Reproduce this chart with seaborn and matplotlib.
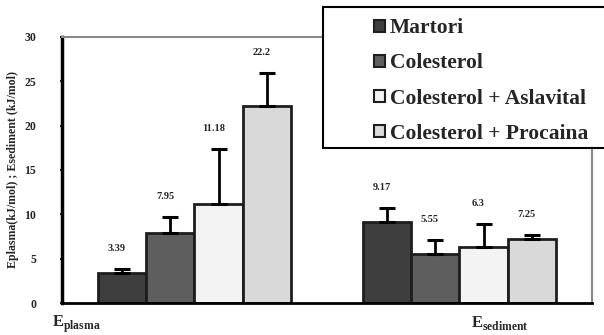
import numpy as np
import pandas as pd
import matplotlib
matplotlib.use("Agg")
import matplotlib.pyplot as plt
from matplotlib.patches import Patch, Rectangle
import seaborn as sns

# -----------------------------
# STYLE
# -----------------------------
sns.set_theme(style="white")
plt.rcParams["font.family"] = ["Liberation Serif", "DejaVu Serif"]
plt.rcParams["font.weight"] = "bold"
plt.rcParams["mathtext.fontset"] = "custom"
plt.rcParams["mathtext.rm"] = "Liberation Serif"
plt.rcParams["mathtext.bf"] = "Liberation Serif:bold"

# -----------------------------
# DATA
# -----------------------------
groups = ["Eplasma", "Esediment"]
treatments = ["Martori", "Colesterol", "Colesterol + Aslavital", "Colesterol + Procaina"]
values_plasma = [3.39, 7.95, 11.18, 22.2]
values_sediment = [9.17, 5.55, 6.3, 7.25]
err_plasma = [0.45, 1.8, 6.2, 3.7]
err_sediment = [1.5, 1.6, 2.6, 0.45]
labels_plasma = ["3.39", "7.95", "11.18", "22.2"]
labels_sediment = ["9.17", "5.55", "6.3", "7.25"]

colors = ["#3e3e3e", "#5e5e5e", "#f3f3f3", "#d9d9d9"]

df = pd.DataFrame({
    "group": [groups[0]] * 4 + [groups[1]] * 4,
    "treatment": treatments * 2,
    "value": values_plasma + values_sediment,
    "err": err_plasma + err_sediment,
    "label": labels_plasma + labels_sediment,
})

# -----------------------------
# PLOT
# -----------------------------
fig = plt.figure(figsize=(6.04, 3.35), dpi=100)
ax = fig.add_axes([0.1026, 0.0955, 0.8774, 0.7941])

sns.barplot(data=df, x="group", y="value", hue="treatment",
            hue_order=treatments, palette=colors, width=0.73,
            edgecolor="#1e1e1e", linewidth=2, legend=False, ax=ax)

# one-sided error bars + value labels
for cont, t in zip(ax.containers, treatments):
    sub = df[df.treatment == t].set_index("group").loc[groups]
    xs = [b.get_x() + b.get_width() / 2 for b in cont]
    ys = sub["value"].values
    es = sub["err"].values
    ax.errorbar(xs, ys, yerr=[np.zeros_like(es), es], fmt="none",
                ecolor="black", elinewidth=2, capsize=5.5, capthick=2.2, zorder=3)
    for x, y, e, lab in zip(xs, ys, es, sub["label"].values):
        ax.text(x - 0.02, y + e + 2.3, lab, ha="center", va="center",
                fontsize=7.5, fontweight="bold")

ax.set_ylim(0, 30)
ax.set_xlim(-0.5, 1.5)
ax.set_yticks(range(0, 31, 5))
ax.tick_params(axis="y", direction="inout", length=3, width=1.5, left=True,
               pad=17, labelsize=8.5)
ax.tick_params(axis="x", bottom=False, labelbottom=False)
for lab in ax.get_yticklabels():
    lab.set_fontweight("bold")
ax.set_xlabel("")
ax.set_ylabel("Eplasma(kJ/mol) ; Esediment (kJ/mol)", fontsize=8.6,
              fontweight="bold", labelpad=4)

for side in ["left", "bottom"]:
    ax.spines[side].set_color("black")
ax.spines["left"].set_linewidth(2.5)
ax.spines["bottom"].set_linewidth(2)
for side in ["top", "right"]:
    ax.spines[side].set_color("#888888")
    ax.spines[side].set_linewidth(1.5)

# group labels
ax.text(-0.019, -0.09, r"$\mathbf{E}_{\mathbf{plasma}}$", transform=ax.transAxes,
        fontsize=12, ha="left", va="baseline")
ax.text(0.772, -0.09, r"$\mathbf{E}_{\mathbf{sediment}}$", transform=ax.transAxes,
        fontsize=12, ha="left", va="baseline")

# legend box
fig.patches.append(Rectangle((0.535, 0.558), 0.6, 0.421, transform=fig.transFigure,
                             facecolor="white", edgecolor="black", linewidth=1.5,
                             zorder=4))
handles = [Patch(facecolor=c, edgecolor="#1e1e1e", linewidth=1.5) for c in colors]
leg = fig.legend(handles, treatments, loc="upper left",
                 bbox_to_anchor=(0.594, 0.99), frameon=False,
                 prop={"family": "Liberation Serif", "weight": "bold", "size": 15.5},
                 handlelength=0.5, handleheight=0.5, handletextpad=0.25,
                 labelspacing=0.7, borderpad=0.2)
leg.set_zorder(5)

fig.savefig("out.png", dpi=100)
